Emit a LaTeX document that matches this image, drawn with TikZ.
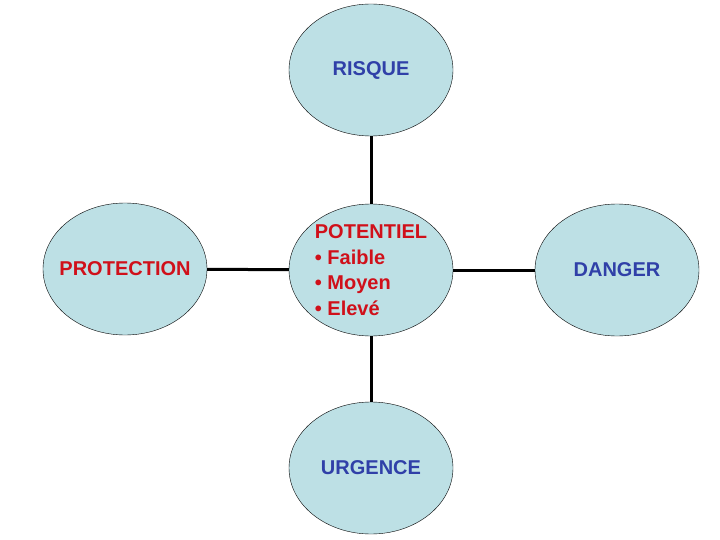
\documentclass[tikz,border=0pt]{standalone}
\usepackage{fontspec}
\setmainfont{Liberation Sans}
\usetikzlibrary{shapes.geometric}
\definecolor{bubblefill}{RGB}{189,224,229}
\definecolor{textblue}{RGB}{48,64,168}
\definecolor{textred}{RGB}{208,16,26}
\begin{document}
\begin{tikzpicture}[
          x=1pt, y=-1pt,
          bubble/.style={ellipse, draw, thin, fill=bubblefill, minimum width=164pt, minimum height=132pt,
                         inner sep=0pt, font=\bfseries\fontsize{20}{25.5}\selectfont},
          link/.style={line width=3pt}
    ]
      \useasboundingbox (0,0) rectangle (720,540);

      % the five bubbles
      \node[bubble, text=textblue] (risque) at (371,70) {RISQUE};
      \node[bubble, text=textred, align=left] (potentiel) at (371,270)
          {POTENTIEL\\• Faible\\• Moyen\\• Elevé};
      \node[bubble, text=textred, inner xsep=-11pt] (protection) at (125,269) {PROTECTION};
      \node[bubble, text=textblue] (danger) at (617,270) {DANGER};
      \node[bubble, text=textblue] (urgence) at (371,468) {URGENCE};

      % links to the centre
      \draw[link] (risque) -- (potentiel);
      \draw[link] (protection) -- (potentiel);
      \draw[link] (potentiel) -- (danger);
      \draw[link] (potentiel) -- (urgence);

\end{tikzpicture}
\end{document}
